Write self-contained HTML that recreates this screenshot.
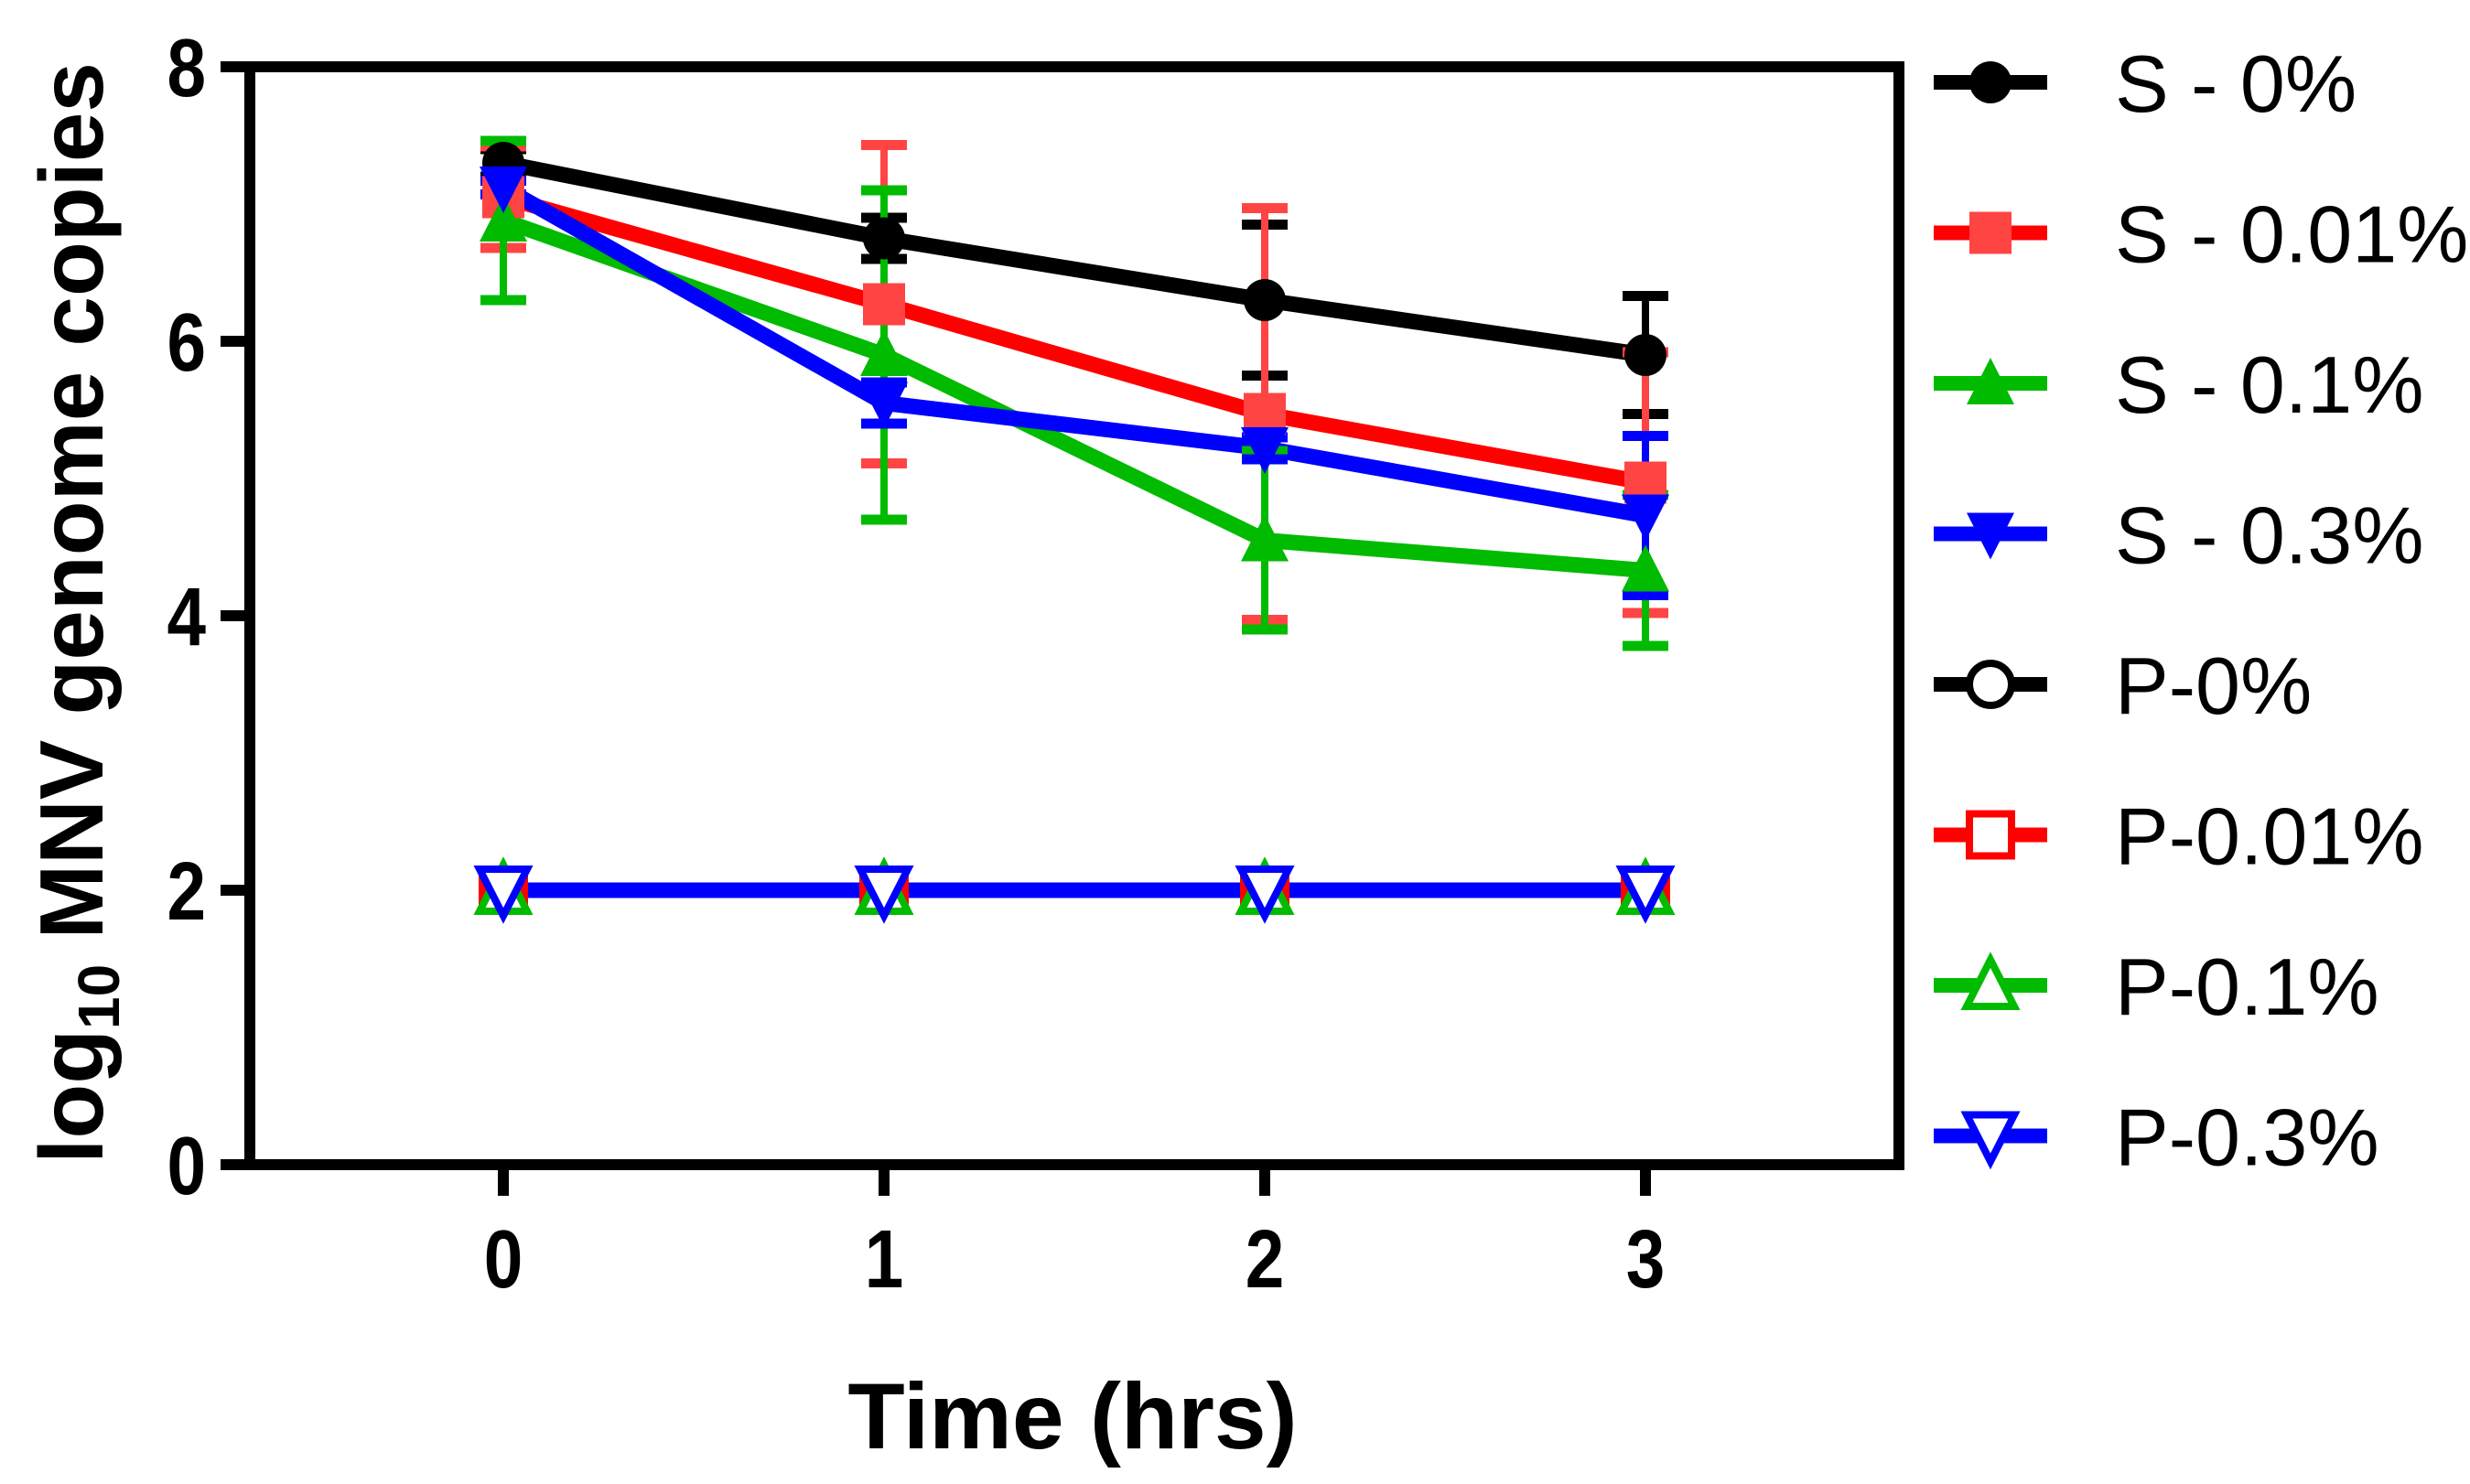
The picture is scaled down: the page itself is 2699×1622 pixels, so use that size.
<!DOCTYPE html>
<html><head><meta charset="utf-8"><style>
html,body{margin:0;padding:0;background:#fff;}
body{position:relative;width:2699px;height:1622px;overflow:hidden;}
svg{display:block;font-family:"Liberation Sans",Arial,sans-serif;}
</style></head><body>
<svg id="chart" width="2699" height="1622" viewBox="0 0 2699 1622" xmlns="http://www.w3.org/2000/svg">
<rect x="0" y="0" width="2699" height="1622" fill="#fff"/>
<g id="plot"></g>
<g id="axes"></g>
<g id="legend"></g>
</svg>
<script>
const times = [0, 1, 2, 3];
const yTicks = [0, 2, 4, 6, 8];
const xTickLabels = ["0", "1", "2", "3"];
const seriesNames = ["S - 0%", "S - 0.01%", "S - 0.1%", "S - 0.3%", "P-0%", "P-0.01%", "P-0.1%", "P-0.3%"];
const s0 = [7.3, 6.75, 6.3, 5.9];
const s0Err = [0.1, 0.15, 0.55, 0.43];
const s001 = [7.05, 6.27, 5.47, 4.97];
const s001Err = [0.37, 1.16, 1.5, 0.95];
const s01 = [6.88, 5.9, 4.55, 4.33];
const s01Err = [0.58, 1.2, 0.65, 0.55];
const s03 = [7.12, 5.55, 5.22, 4.73];
const s03Err = [0.05, 0.15, 0.08, 0.58];
const p0 = [2, 2, 2, 2];
const p001 = [2, 2, 2, 2];
const p01 = [2, 2, 2, 2];
const p03 = [2, 2, 2, 2];

const NS = "http://www.w3.org/2000/svg";
const X0 = 273, X1 = 2075, Y0 = 1273, Y1 = 73;
const xScale = t => 550 + t * 416;
const yScale = v => Y0 - v * 150;
function mk(tag, attrs, parent) {
  const e = document.createElementNS(NS, tag);
  for (const k in attrs) e.setAttribute(k, attrs[k]);
  parent.appendChild(e);
  return e;
}
const plot = document.getElementById('plot');
const axes = document.getElementById('axes');
const legend = document.getElementById('legend');

function marker(parent, shape, cx, cy, color, open, name) {
  const r = 23;
  let el;
  const fill = open ? "#fff" : color;
  const sw = open ? 8 : 0;
  if (shape === "circle") el = mk("circle", {cx: cx, cy: cy, r: r, fill: fill, stroke: color, "stroke-width": sw}, parent);
  else if (shape === "square") el = mk("rect", {x: cx - r, y: cy - r, width: 2 * r, height: 2 * r, fill: fill, stroke: color, "stroke-width": sw}, parent);
  else if (shape === "up") el = mk("polygon", {points: `${cx},${cy - r - 5} ${cx - r - 3},${cy + r} ${cx + r + 3},${cy + r}`, fill: fill, stroke: color, "stroke-width": sw}, parent);
  else el = mk("polygon", {points: `${cx},${cy + r + 5} ${cx - r - 3},${cy - r} ${cx + r + 3},${cy - r}`, fill: fill, stroke: color, "stroke-width": sw}, parent);
  
  
  return el;
}

const series = [
  {vals: s0, err: s0Err, color: "#000", ecolor: "#000", shape: "circle", open: false, key: "s-0"},
  {vals: s001, err: s001Err, color: "#ff0000", ecolor: "#f44", shape: "square", open: false, key: "s-0-01"},
  {vals: s01, err: s01Err, color: "#00bb00", ecolor: "#00bb00", shape: "up", open: false, key: "s-0-1"},
  {vals: s03, err: s03Err, color: "#0000ff", ecolor: "#0000ff", shape: "down", open: false, key: "s-0-3"},
  {vals: p0, err: null, color: "#000", ecolor: "#000", shape: "circle", open: true, key: "p-0"},
  {vals: p001, err: null, color: "#ff0000", ecolor: "#f44", shape: "square", open: true, key: "p-0-01"},
  {vals: p01, err: null, color: "#00bb00", ecolor: "#00bb00", shape: "up", open: true, key: "p-0-1"},
  {vals: p03, err: null, color: "#0000ff", ecolor: "#0000ff", shape: "down", open: true, key: "p-0-3"}
];

series.forEach(s => {
  const pts = s.vals.map((v, i) => `${xScale(times[i])},${yScale(v)}`).join(" ");
  const l = mk("polyline", {points: pts, fill: "none", stroke: s.color, "stroke-width": 17, "stroke-linejoin": "round"}, plot);
  
  
});
series.forEach(s => {
  if (!s.err) return;
  s.vals.forEach((v, i) => {
    const x = xScale(times[i]);
    const g = mk("g", {}, plot);
    
    
    const hi = yScale(v + s.err[i]), lo = yScale(v - s.err[i]);
    mk("line", {x1: x, x2: x, y1: hi, y2: lo, stroke: s.ecolor, "stroke-width": 8}, g);
    mk("line", {x1: x - 25, x2: x + 25, y1: hi, y2: hi, stroke: s.ecolor, "stroke-width": 11}, g);
    mk("line", {x1: x - 25, x2: x + 25, y1: lo, y2: lo, stroke: s.ecolor, "stroke-width": 11}, g);
  });
});
series.forEach(s => {
  s.vals.forEach((v, i) => {
    marker(plot, s.shape, xScale(times[i]), yScale(v), s.open ? s.color : s.ecolor, s.open, s.key + '-point');
  });
});

const frame = mk("rect", {x: X0, y: Y1, width: X1 - X0, height: Y0 - Y1, fill: "none", stroke: "#000", "stroke-width": 12}, axes);


yTicks.forEach(t => {
  const y = yScale(t);
  const tk = mk("line", {x1: X0 - 32, x2: X0, y1: y, y2: y, stroke: "#000", "stroke-width": 12}, axes);
  
  
  const tx = mk("text", {x: 0, y: 0, transform: `translate(${X0 - 48},${y + 32}) scale(0.85,1)`, "text-anchor": "end", "font-size": 90, "font-weight": "bold", fill: "#000"}, axes);
  tx.textContent = String(t);
  
  
});
times.forEach((t, i) => {
  const x = xScale(t);
  const tk = mk("line", {x1: x, x2: x, y1: Y0, y2: Y0 + 34, stroke: "#000", "stroke-width": 12}, axes);
  
  
  const tx = mk("text", {x: 0, y: 0, transform: `translate(${x},1407) scale(0.85,1)`, "text-anchor": "middle", "font-size": 90, "font-weight": "bold", fill: "#000"}, axes);
  tx.textContent = xTickLabels[i];
  
  
});
</script>
<svg style="position:absolute;left:0;top:0" width="2699" height="1622" viewBox="0 0 2699 1622" xmlns="http://www.w3.org/2000/svg">
<text x="1172" y="1583" text-anchor="middle" font-family="Liberation Sans, Arial, sans-serif" font-size="102" font-weight="bold">Time (hrs)</text>
<text transform="translate(112,670) rotate(-90)" text-anchor="middle" font-family="Liberation Sans, Arial, sans-serif" font-size="98" font-weight="bold">log<tspan font-size="64" dy="18">10</tspan><tspan dy="-18"> MNV genome copies</tspan></text>
</svg>
<script>
(function(){
  const legendNames = seriesNames;
  const lg = document.getElementById('legend');
  series.forEach((s, i) => {
    const y = 90 + i * 164.5;
    const g = mk("g", {}, lg);
    
    
    mk("line", {x1: 2113, x2: 2237, y1: y, y2: y, stroke: s.color, "stroke-width": 16}, g);
    marker(g, s.shape, 2175, y, s.open ? s.color : s.ecolor, s.open, 'legend-marker');
    const t = mk("text", {x: 2311, y: y + 32, "font-size": 88, fill: "#000"}, g);
    t.textContent = legendNames[i];
    
    
  });
})();
</script>
</body></html>
